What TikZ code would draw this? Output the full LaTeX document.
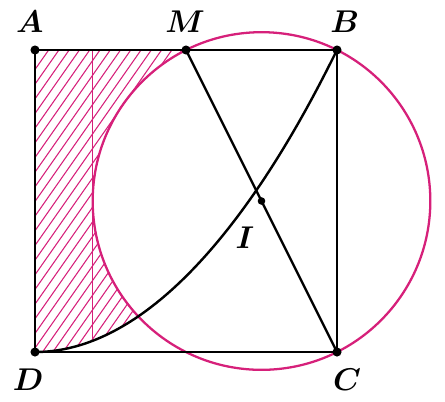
\documentclass[tikz,border=0pt]{standalone}
\usepackage{bm}
\definecolor{pinkc}{RGB}{214,32,122}
\begin{document}
\begin{tikzpicture}[x=7cm,y=7cm,
  blk/.style={line width=1.6pt,black},
  pnk/.style={line width=1.5pt,pinkc},
  hatch/.style={line width=0.7pt,pinkc},
  dot/.style={circle,fill=black,inner sep=0pt,minimum size=6pt},
  lbl/.style={font=\fontsize{21}{25}\selectfont}]
\useasboundingbox (-0.1159,-0.1623) rectangle (1.3576,1.1656);
\coordinate (D) at (0,0);
\coordinate (A) at (0,1);
\coordinate (B) at (1,1);
\coordinate (C) at (1,0);
\coordinate (M) at (0.5,1);
\coordinate (I) at (0.75,0.5);
\coordinate (P) at (0.3425,0.1173);
\coordinate (T) at (0.191,1);
\coordinate (Tb) at (0.191,0.0365);
% hatched region
\begin{scope}
\clip (D) -- (A) -- (M) arc[start angle=116.57,end angle=223.2,radius=0.5590]
  -- plot[domain=0.3425:0,samples=40] (\x,{\x*\x}) -- cycle;
\foreach \k in {-1.2,-1.166,...,0.7}{
  \draw[hatch] (\k,-0.05) -- ++(55:1.6);
}
\end{scope}
\draw[hatch] (M) arc[start angle=116.57,end angle=223.2,radius=0.5590];
\draw[hatch,line width=1pt] (T) -- (Tb);
% circle
\draw[pnk] (I) circle[radius=0.5590];
% square and lines
\draw[blk] (A) -- (B) -- (C) -- (D) -- cycle;
\draw[blk] (M) -- (C);
\draw[blk] (D) parabola (B);
% dots
\node[dot] (a) at (A) {};
\node[dot] (b) at (B) {};
\node[dot] (c) at (C) {};
\node[dot] (d) at (D) {};
\node[dot] (m) at (M) {};
\node[dot,minimum size=5pt] (i) at (I) {};
% labels
\node[lbl] (la) at (-0.017,1.093) {$\bm{A}$};
\node[lbl] (lm) at (0.497,1.093) {$\bm{M}$};
\node[lbl] (lb) at (1.026,1.093) {$\bm{B}$};
\node[lbl] (ld) at (-0.023,-0.093) {$\bm{D}$};
\node[lbl] (lc) at (1.033,-0.093) {$\bm{C}$};
\node[lbl] (li) at (0.695,0.377) {$\bm{I}$};
\end{tikzpicture}
\end{document}
